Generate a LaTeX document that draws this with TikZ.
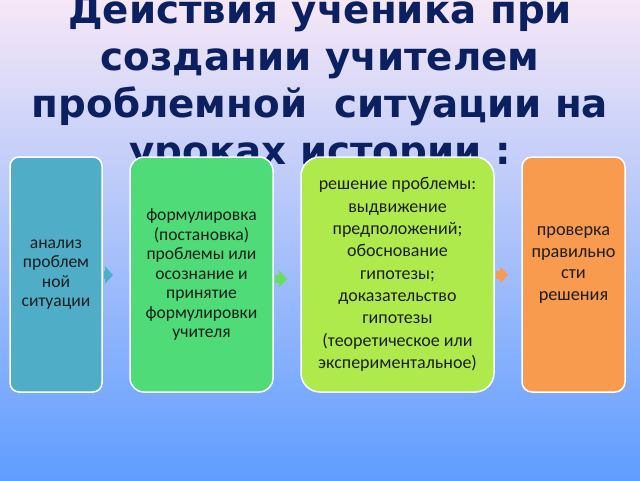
\documentclass[tikz,border=0pt]{standalone}
\usepackage{fontspec}
\setmainfont{Carlito}
\newfontfamily\titlefont{DejaVu Sans}
\usetikzlibrary{arrows.meta}

\definecolor{bgtop}{HTML}{F6E7F6}
\definecolor{bgbottom}{HTML}{5F9DFF}
\definecolor{navy}{HTML}{0B2060}
\definecolor{boxtext}{HTML}{1E1E1E}
\definecolor{aqua}{HTML}{4FADC8}
\definecolor{grass}{HTML}{4FDB78}
\definecolor{lime}{HTML}{AEEA4C}
\definecolor{peach}{HTML}{F89B4F}
\definecolor{grassarrow}{HTML}{66E05A}

\begin{document}
\begin{tikzpicture}[x=1pt,y=-1pt,
  stepbox/.style={draw=white, line width=1.5pt, align=center, inner sep=0pt,
    text=boxtext, font=\fontsize{17.6}{19.5}\selectfont},
  pointer/.style={line width=8pt, -{Triangle[length=8pt,width=17pt]}},
  headline/.style={anchor=base, inner sep=0pt, text=navy,
    font=\titlefont\bfseries\fontsize{38.8}{47}\selectfont}]
\useasboundingbox (0,0) rectangle (640,480);
\clip (0,0) rectangle (640,480);
\shade [top color=bgtop, bottom color=bgbottom] (0,0) rectangle (640,480);
% title
\node [headline] (h1) at (320,23) {Действия ученика при};
\node [headline] (h2) at (320,70) {создании учителем};
\node [headline] (h3) at (320,117) {проблемной\ \ ситуации на};
\node [headline] (h4) at (320,164) {уроках истории :};
% steps
\node [stepbox, fill=aqua, rounded corners=9pt, minimum width=92pt,
  minimum height=235pt] (b1) at (56,274.5)
  {анализ\\проблем\\ной\\ситуации};
\node [stepbox, fill=grass, rounded corners=14pt, minimum width=143pt,
  minimum height=235pt] (b2) at (201.5,274.5)
  {формулировка\\(постановка)\\проблемы или\\осознание и\\принятие\\формулировки\\учителя};
\node [stepbox, fill=lime, rounded corners=19pt, minimum width=193pt,
  minimum height=235pt, font=\fontsize{18}{22.3}\selectfont] (b3) at (397.5,274.5)
  {решение проблемы:\\выдвижение\\предположений;\\обоснование\\гипотезы;\\доказательство\\гипотезы\\(теоретическое или\\экспериментальное)};
\node [stepbox, fill=peach, rounded corners=10pt, minimum width=103pt,
  minimum height=235pt, font=\fontsize{18.3}{21.6}\selectfont] (b4) at (573.5,274.5)
  {проверка\\правильно\\сти\\решения\\~};
% arrows
\coordinate (e1) at (113,275);
\coordinate (e2) at (287,279);
\coordinate (e3) at (508,275);
\draw [pointer, aqua] ([xshift=0.75pt]b1.east |- e1) -- (e1);
\draw [pointer, grassarrow] ([xshift=0.75pt]b2.east |- e2) -- (e2);
\draw [pointer, peach] ([xshift=0.75pt]b3.east |- e3) -- (e3);
\end{tikzpicture}
\end{document}
